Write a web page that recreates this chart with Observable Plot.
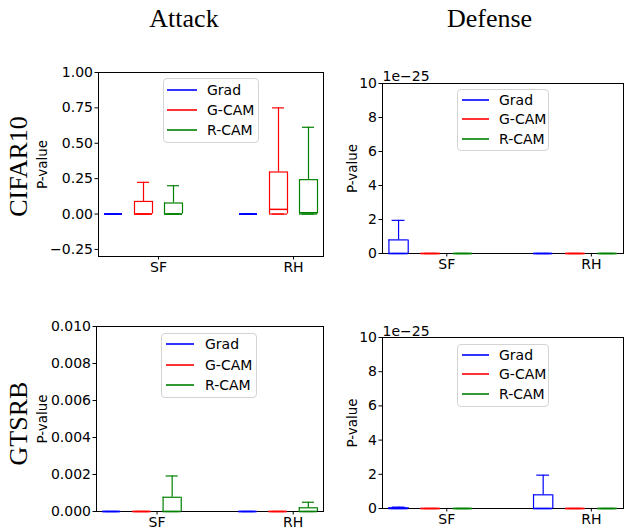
<!DOCTYPE html>
<html>
<head>
<meta charset="utf-8">
<script src="https://cdn.jsdelivr.net/npm/d3@7"></script>
<script src="https://cdn.jsdelivr.net/npm/@observablehq/plot@0.6"></script>
<style>
  html, body { margin: 0; padding: 0; background: #fff; }
  #chart { position: relative; width: 625px; height: 529px; overflow: hidden; font-family: "DejaVu Sans", sans-serif; }
  .panel { position: absolute; }
  .panel svg { overflow: visible; }
  .legend { position: absolute; box-sizing: border-box; border: 1px solid #d4d4d4; border-radius: 4px; background: rgba(255,255,255,0.85); }
  .legend svg { position: absolute; left: 0; top: 0; overflow: visible; }
  .legend .lab { position: absolute; font-size: 14px; line-height: 16px; color: #000; white-space: nowrap; }
  #overlay { position: absolute; left: 0; top: 0; pointer-events: none; }
</style>
</head>
<body>
<div id="chart"></div>
<script>
// ---------- data ----------
const methods = ["Grad", "G-CAM", "R-CAM"];
const groups = ["SF", "RH"];
const methodColors = ["#0000ff", "#ff0000", "#008000"];
const colTitles = ["Attack", "Defense"];
const rowTitles = ["CIFAR10", "GTSRB"];
const yLabel = "P-value";

// order of every array: SF-Grad, SF-G-CAM, SF-R-CAM, RH-Grad, RH-G-CAM, RH-R-CAM
const cifarAttackMin    = [0, 0, 0, 0, 0, 0];
const cifarAttackQ1     = [0, 0, 0, 0, 0, 0];
const cifarAttackMedian = [0, 0, 0, 0, 0.033, 0.009];
const cifarAttackQ3     = [0, 0.089, 0.078, 0, 0.297, 0.243];
const cifarAttackMax    = [0, 0.224, 0.200, 0, 0.750, 0.613];

const cifarDefenseMin    = [0, 0, 0, 0, 0, 0];
const cifarDefenseQ1     = [0, 0, 0, 0, 0, 0];
const cifarDefenseMedian = [0, 0, 0, 0, 0, 0];
const cifarDefenseQ3     = [0.8e-25, 0, 0, 0, 0, 0];
const cifarDefenseMax    = [1.95e-25, 0, 0, 0, 0, 0];

const gtsrbAttackMin    = [0, 0, 0, 0, 0, 0];
const gtsrbAttackQ1     = [0, 0, 0, 0, 0, 0];
const gtsrbAttackMedian = [0, 0, 0, 0, 0, 0];
const gtsrbAttackQ3     = [0, 0, 0.00077, 0, 0, 0.0002];
const gtsrbAttackMax    = [0, 0, 0.00192, 0, 0, 0.0005];

const gtsrbDefenseMin    = [0, 0, 0, 0, 0, 0];
const gtsrbDefenseQ1     = [0, 0, 0, 0, 0, 0];
const gtsrbDefenseMedian = [0, 0, 0, 0, 0, 0];
const gtsrbDefenseQ3     = [0.04e-25, 0, 0, 0.8e-25, 0, 0];
const gtsrbDefenseMax    = [0.08e-25, 0, 0, 1.95e-25, 0, 0];

// tick labels
const cifarAttackTicks = [-0.25, 0, 0.25, 0.5, 0.75, 1.0];
const gtsrbAttackTicks = [0, 0.002, 0.004, 0.006, 0.008, 0.010];
const defenseTickLabels = [0, 2, 4, 6, 8, 10];
const defenseExponent = -25;
const defenseOffsetText = "1e\u221225";

// ---------- helpers ----------
const GROUP_STEP = 4.5, BOX_STEP = 1, HALF_BOX = 0.3, HALF_CAP = 0.2;
const groupTickPos = groups.map((g, i) => i * GROUP_STEP + BOX_STEP * 1.5);

function rows(mn, q1, med, q3, mx) {
  return q1.map((_, i) => {
    const g = Math.floor(i / methods.length), m = i % methods.length;
    return {group: groups[g], method: methods[m], pos: g * GROUP_STEP + m * BOX_STEP,
            min: mn[i], q1: q1[i], median: med[i], q3: q3[i], max: mx[i]};
  });
}

function panel(cfg) {
  const data = cfg.data;
  const sw = 1.2;
  const c = {stroke: "method", strokeWidth: sw};
  const marks = [
    Plot.frame({stroke: "black", strokeWidth: 1}),
    Plot.axisY({ticks: cfg.yTicks, tickFormat: cfg.yFormat, tickSize: 3.5, tickPadding: 2, label: null, fontSize: 14}),
    Plot.axisX({ticks: groupTickPos, tickFormat: d => groups[groupTickPos.indexOf(d)], tickSize: 3.5, tickPadding: 2, label: null, fontSize: 14}),
    // whiskers
    Plot.ruleX(data, {x: "pos", y1: "q3", y2: "max", ...c}),
    Plot.ruleX(data, {x: "pos", y1: "min", y2: "q1", ...c}),
    // caps
    Plot.ruleY(data, {y: "max", x1: d => d.pos - HALF_CAP, x2: d => d.pos + HALF_CAP, ...c}),
    Plot.ruleY(data, {y: "min", x1: d => d.pos - HALF_CAP, x2: d => d.pos + HALF_CAP, ...c}),
    // box sides
    Plot.ruleX(data, {x: d => d.pos - HALF_BOX, y1: "q1", y2: "q3", ...c}),
    Plot.ruleX(data, {x: d => d.pos + HALF_BOX, y1: "q1", y2: "q3", ...c}),
    // box top / bottom
    Plot.ruleY(data, {y: "q1", x1: d => d.pos - HALF_BOX, x2: d => d.pos + HALF_BOX, ...c}),
    Plot.ruleY(data, {y: "q3", x1: d => d.pos - HALF_BOX, x2: d => d.pos + HALF_BOX, ...c}),
    // median
    Plot.ruleY(data, {y: "median", x1: d => d.pos - HALF_BOX, x2: d => d.pos + HALF_BOX, stroke: "method", strokeWidth: 1.5}),
    // y label
    Plot.text([yLabel], {text: d => d, frameAnchor: "left", textAnchor: "middle", lineAnchor: "middle", dx: cfg.labelDx, rotate: -90, fontSize: 13.5})
  ];
  if (cfg.offsetText) {
    marks.push(Plot.text([cfg.offsetText], {text: d => d, frameAnchor: "top-left", lineAnchor: "middle", dy: cfg.offsetDy, textAnchor: "start", fontSize: 14}));
  }
  const svg = Plot.plot({
    width: cfg.width, height: cfg.height,
    marginLeft: cfg.ml, marginRight: cfg.mr, marginTop: cfg.mt, marginBottom: cfg.mb,
    x: {domain: [-0.5, 7], axis: null},
    y: {domain: cfg.yDomain, axis: null},
    color: {domain: methods, range: methodColors},
    style: {fontFamily: "DejaVu Sans, sans-serif", fontSize: "14px", color: "black", background: "transparent", overflow: "visible"},
    marks
  });
  const div = document.createElement("div");
  div.className = "panel";
  div.style.left = cfg.left + "px";
  div.style.top = cfg.top + "px";
  div.appendChild(svg);
  document.getElementById("chart").appendChild(div);
}

const ns = "http://www.w3.org/2000/svg";
function legend(left, top, w, h, ys, x0, x1, tx) {
  const d = document.createElement("div");
  d.className = "legend";
  Object.assign(d.style, {left: left + "px", top: top + "px", width: w + "px", height: h + "px"});
  const s = document.createElementNS(ns, "svg");
  s.setAttribute("width", w);
  s.setAttribute("height", h);
  methods.forEach((m, i) => {
    const ln = document.createElementNS(ns, "line");
    ln.setAttribute("x1", x0 - 1);
    ln.setAttribute("x2", x1 - 1);
    ln.setAttribute("y1", ys[i] - 1);
    ln.setAttribute("y2", ys[i] - 1);
    ln.setAttribute("stroke", methodColors[i]);
    ln.setAttribute("stroke-width", 1.6);
    s.appendChild(ln);
    const t = document.createElement("div");
    t.className = "lab";
    t.textContent = m;
    Object.assign(t.style, {left: (tx - 1) + "px", top: (ys[i] - 9) + "px"});
    d.appendChild(t);
  });
  d.appendChild(s);
  document.getElementById("chart").appendChild(d);
}

const fmtAttackCifar = d3.format(".2f");
const fmtAttackGtsrb = d3.format(".3f");
const defenseTicks = defenseTickLabels.map(t => t * Math.pow(10, defenseExponent));
const fmtDefense = d => String(defenseTickLabels[defenseTicks.indexOf(d)]);

// ---------- panels ----------
// top-left: frame x 98-323, y 72-256
panel({left: 0, top: 60, width: 330, height: 220, ml: 98, mr: 7, mt: 12, mb: 24,
  yDomain: [-0.3, 1.0], yTicks: cifarAttackTicks, yFormat: fmtAttackCifar, labelDx: -55.5,
  data: rows(cifarAttackMin, cifarAttackQ1, cifarAttackMedian, cifarAttackQ3, cifarAttackMax)});
// top-right: frame x 382-623, y 83-253
panel({left: 320, top: 60, width: 305, height: 220, ml: 62, mr: 2, mt: 23, mb: 27,
  yDomain: [0, defenseTicks[defenseTicks.length - 1]], yTicks: defenseTicks, yFormat: fmtDefense, labelDx: -30,
  offsetText: defenseOffsetText, offsetDy: -7,
  data: rows(cifarDefenseMin, cifarDefenseQ1, cifarDefenseMedian, cifarDefenseQ3, cifarDefenseMax)});
// bottom-left: frame x 96-323, y 326-511
panel({left: 0, top: 310, width: 330, height: 219, ml: 96, mr: 7, mt: 16, mb: 18,
  yDomain: [0, 0.010], yTicks: gtsrbAttackTicks, yFormat: fmtAttackGtsrb, labelDx: -53.5,
  data: rows(gtsrbAttackMin, gtsrbAttackQ1, gtsrbAttackMedian, gtsrbAttackQ3, gtsrbAttackMax)});
// bottom-right: frame x 382-623, y 337-508
panel({left: 320, top: 320, width: 305, height: 209, ml: 62, mr: 2, mt: 17, mb: 21,
  yDomain: [0, defenseTicks[defenseTicks.length - 1]], yTicks: defenseTicks, yFormat: fmtDefense, labelDx: -30,
  offsetText: defenseOffsetText, offsetDy: -6,
  data: rows(gtsrbDefenseMin, gtsrbDefenseQ1, gtsrbDefenseMedian, gtsrbDefenseQ3, gtsrbDefenseMax)});

// ---------- legends ----------
legend(163, 78, 96, 65, [12, 32, 52], 4, 34, 44);
legend(457, 89, 92, 62, [11, 30, 50], 5, 32, 42);
legend(161, 333, 96, 65, [11, 32, 52], 5, 33, 44);
legend(457, 344, 92, 63, [11, 30, 50], 5, 32, 42);

// ---------- titles ----------
const ov = document.createElementNS(ns, "svg");
ov.setAttribute("id", "overlay");
ov.setAttribute("width", 625);
ov.setAttribute("height", 529);
function addText(str, transform) {
  const t = document.createElementNS(ns, "text");
  t.setAttribute("transform", transform);
  t.setAttribute("text-anchor", "middle");
  t.setAttribute("font-family", "Liberation Serif, Times New Roman, serif");
  t.setAttribute("font-size", "26");
  t.setAttribute("fill", "#000");
  t.textContent = str;
  ov.appendChild(t);
}
addText(colTitles[0], "translate(184,27)");
addText(colTitles[1], "translate(489.5,27)");
addText(rowTitles[0], "translate(27,166.5) rotate(-90)");
addText(rowTitles[1], "translate(27,423.5) rotate(-90)");
document.getElementById("chart").appendChild(ov);
</script>
</body>
</html>
